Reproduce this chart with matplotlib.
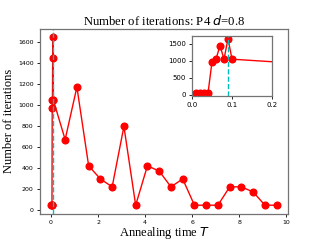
import matplotlib
matplotlib.use("Agg")
import matplotlib.pyplot as plt

# annealing times and iteration counts
T = [0.01, 0.02, 0.03, 0.04, 0.05, 0.06, 0.07, 0.08, 0.09, 0.1,
     0.6, 1.1, 1.6, 2.1, 2.6, 3.1, 3.6, 4.1, 4.6, 5.1, 5.6,
     6.1, 6.6, 7.1, 7.6, 8.1, 8.6, 9.1, 9.6]
iters = [50, 50, 50, 50, 975, 1050, 1450, 1050, 1650, 1050,
         675, 1175, 425, 300, 225, 800, 50, 425, 375, 225, 300,
         50, 50, 50, 225, 225, 175, 50, 50]
t_best = 0.09

serif = "Liberation Serif"

fig = plt.figure(figsize=(3.2, 2.4), dpi=100)
ax = fig.add_axes([0.125, 0.11, 0.775, 0.77])
ax.plot(T, iters, "o-", color="red", markersize=4.8, linewidth=1)
ax.axvline(t_best, color="c", linestyle="--", linewidth=1)
ax.set_title("Number of iterations: P4 $d$=0.8", fontsize=9.2, family=serif, pad=3)
ax.set_xlabel("Annealing time $T$", fontsize=9, family=serif, labelpad=0)
ax.set_ylabel("Number of iterations", fontsize=9, family=serif, labelpad=2)
ax.tick_params(labelsize=4.5, length=2.5, width=0.6, pad=2)
ax.set_xticks([0, 2, 4, 6, 8, 10])
for s in ax.spines.values():
    s.set_color("0.45")
    s.set_linewidth(0.9)

ins = fig.add_axes([0.6, 0.6, 0.25, 0.25])
ins.plot(T, iters, "o-", color="red", markersize=4.8, linewidth=1)
ins.axvline(t_best, color="c", linestyle="--", linewidth=1)
ins.set_xlim(0, 0.2)
ins.set_xticks([0.0, 0.1, 0.2])
ins.set_yticks([0, 500, 1000, 1500])
ins.tick_params(labelsize=5, length=2.5, width=0.6, pad=2)
for s in ins.spines.values():
    s.set_color("0.45")
    s.set_linewidth(0.9)

fig.savefig("out.png", dpi=100)
